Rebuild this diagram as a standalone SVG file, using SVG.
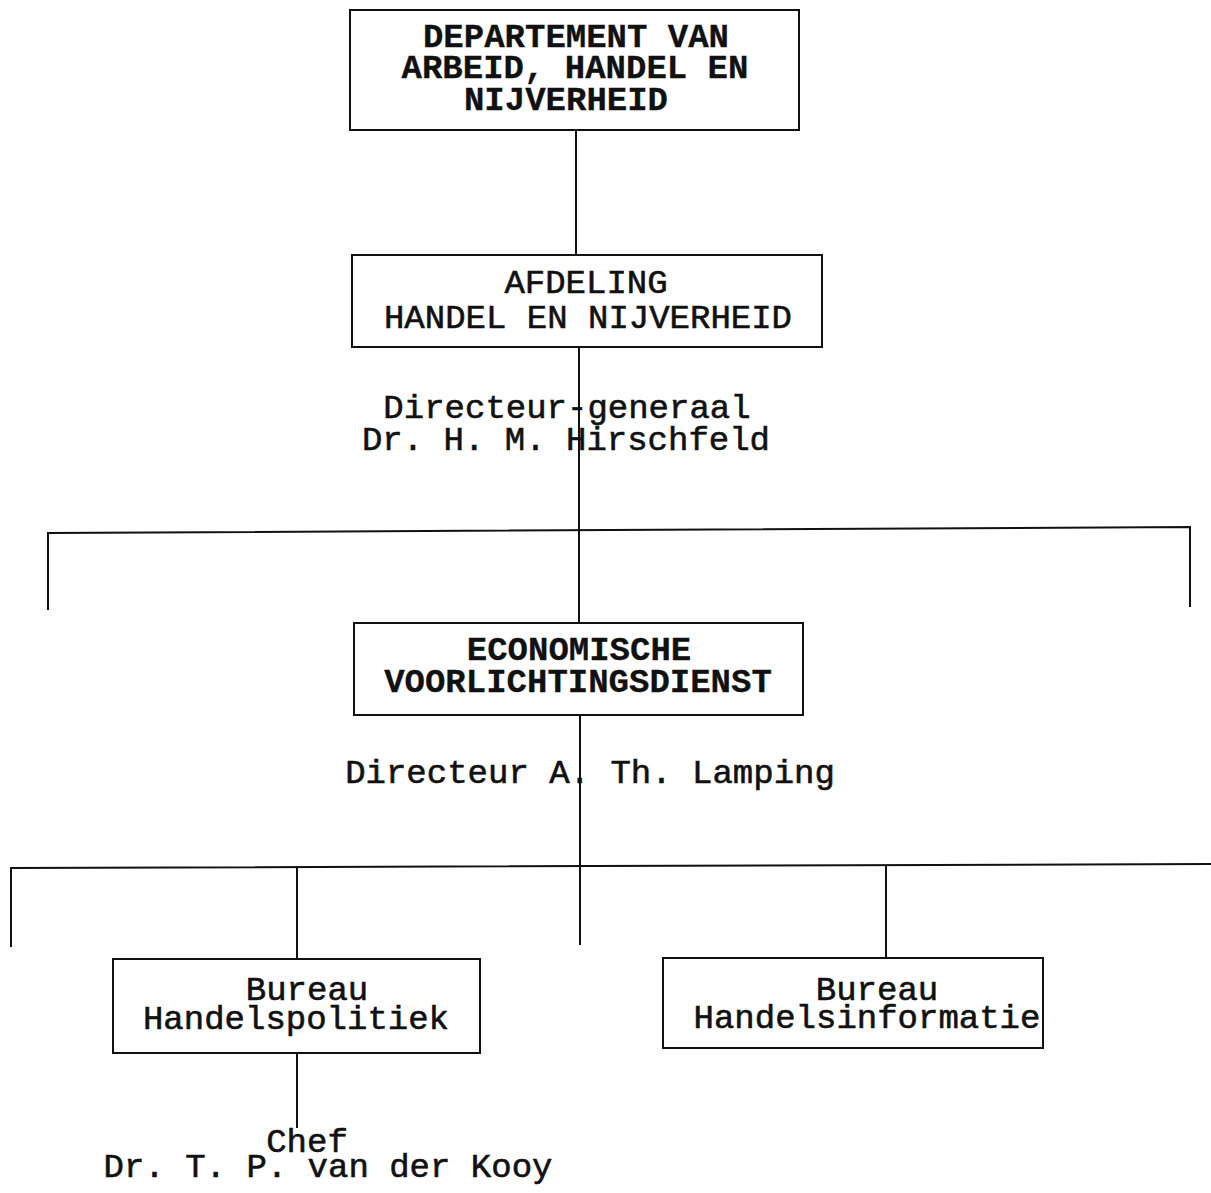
<svg xmlns="http://www.w3.org/2000/svg" width="1211" height="1193" viewBox="0 0 1211 1193">
<style>
.box{fill:#fff;stroke:#111;stroke-width:2}
.ln{stroke:#111;stroke-width:2;fill:none}
text{font-family:"Liberation Mono","Courier New",monospace;font-size:34px;fill:#111;text-anchor:middle;stroke:#111;stroke-width:0.6}
.b{font-weight:bold;stroke-width:0.3}
</style>
<rect width="1211" height="1193" fill="#fff"/>
<g id="connectors">
<line class="ln" x1="576" y1="130" x2="576" y2="255"/>
<line class="ln" x1="579" y1="347" x2="579" y2="623"/>
<polyline class="ln" points="48,610 48,533 1190,527 1190,607"/>
<line class="ln" x1="580" y1="715" x2="580" y2="945"/>
<polyline class="ln" points="11,947 11,868 1211,864"/>
<line class="ln" x1="297" y1="868" x2="297" y2="959"/>
<line class="ln" x1="886" y1="865" x2="886" y2="958"/>
<line class="ln" x1="297" y1="1053" x2="297" y2="1128"/>
</g>
<g id="dept">
<rect class="box" x="350" y="10" width="449" height="120"/>
<text class="b" x="576" y="47">DEPARTEMENT VAN</text>
<text class="b" x="575" y="78">ARBEID, HANDEL EN</text>
<text class="b" x="566" y="110">NIJVERHEID</text>
</g>
<g id="afdeling">
<rect class="box" x="352" y="255" width="470" height="92"/>
<text x="586" y="293">AFDELING</text>
<text x="588" y="328">HANDEL EN NIJVERHEID</text>
</g>
<g id="dg">
<text x="567" y="418">Directeur-generaal</text>
<text x="566" y="450">Dr. H. M. Hirschfeld</text>
</g>
<g id="evd">
<rect class="box" x="354" y="623" width="449" height="92"/>
<text class="b" x="579" y="660">ECONOMISCHE</text>
<text class="b" x="578" y="692">VOORLICHTINGSDIENST</text>
</g>
<g id="directeur">
<text x="590" y="783">Directeur A. Th. Lamping</text>
</g>
<g id="handelspolitiek">
<rect class="box" x="113" y="959" width="367" height="94"/>
<text x="307" y="1000">Bureau</text>
<text x="296" y="1029">Handelspolitiek</text>
</g>
<g id="handelsinformatie">
<rect class="box" x="663" y="958" width="380" height="90"/>
<text x="877" y="1000">Bureau</text>
<text x="867" y="1028">Handelsinformatie</text>
</g>
<g id="chef">
<text x="307" y="1152">Chef</text>
<text x="328" y="1177">Dr. T. P. van der Kooy</text>
</g>
</svg>
